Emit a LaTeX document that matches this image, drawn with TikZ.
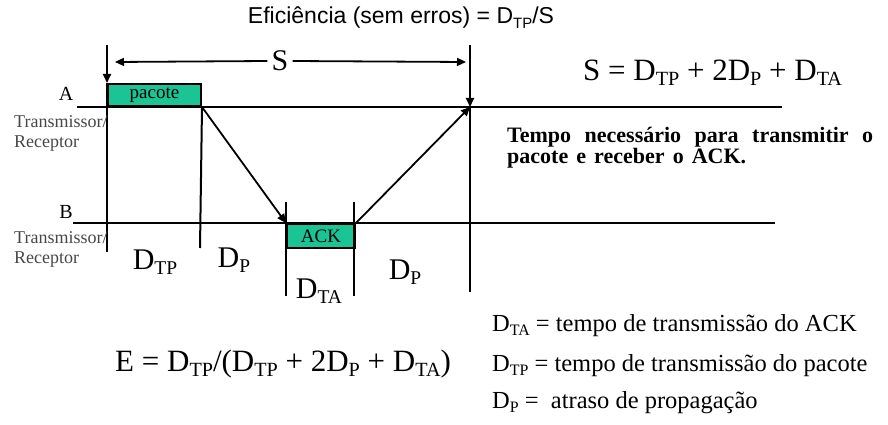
\documentclass[tikz,border=0pt]{standalone}
\usepackage{fontspec}
\usepackage{graphicx}
\setmainfont{Liberation Serif}
\newfontfamily\arialf{Liberation Sans}
\usetikzlibrary{arrows.meta}
\definecolor{boxgreen}{HTML}{1BC495}
\newcommand\sbs[1]{\raisebox{-0.35ex}{\scalebox{0.65}{#1}}}
\newcommand\fs[1]{\fontsize{#1}{#1}\selectfont}
\tikzset{
  x=1pt, y=-1pt,
  axis/.style={line width=2.6pt},
  tick/.style={line width=2pt},
  conn/.style={line width=1.8pt},
  tip/.style={-{Triangle[length=9pt,width=8pt]}},
  greenbox/.style={draw=black, line width=2pt, fill=boxgreen, inner sep=0pt, font=\fs{19}},
  sidelabel/.style={text=black!72, font=\fs{18}, inner sep=0pt, anchor=west},
  big/.style={inner sep=0pt, font=\fs{30}},
  ablabel/.style={inner sep=0pt, font=\fs{20}},
}
\begin{document}
\begin{tikzpicture}
\useasboundingbox (0,0) rectangle (888,425);
% title
\node[inner sep=0pt, font=\arialf\fs{23}] (title) at (401,18) {Eficiência (sem erros) = D\sbs{TP}/S};
% time axes
\coordinate (A0) at (77,107);  \coordinate (A1) at (782,107);
\coordinate (B0) at (73,223);  \coordinate (B1) at (775,223);
\draw[axis] (A0) -- (A1);
\draw[axis] (B0) -- (B1);
% boxes
\node[greenbox, minimum width=93pt, minimum height=22pt, anchor=south west] (pac) at (107,107) {pacote};
\node[greenbox, minimum width=68pt, minimum height=24pt, anchor=north west] (ack) at (286,223) {ACK};
% vertical markers
\coordinate (v1top) at (107,45);  \coordinate (v1bot) at (107,252);
\coordinate (v2bot) at (200,248);
\coordinate (v3top) at (286,202); \coordinate (v3bot) at (286,296);
\coordinate (v4top) at (354,202); \coordinate (v4bot) at (354,296);
\coordinate (v5top) at (470,45);  \coordinate (v5bot) at (470,292);
\coordinate (v5a) at (470,107);
\draw[tick, tip] (v1top) -- (pac.north west);
\draw[tick] (pac.north west) -- (v1bot);
\draw[tick] (pac.south east) -- (v2bot);
\draw[tick] (v3top) -- (v3bot);
\draw[tick] (v4top) -- (v4bot);
\draw[tick, tip] (v5top) -- (v5a);
\draw[tick] (v5a) -- (v5bot);
% signal arrows
\draw[conn, tip] (pac.south east) -- (ack.north west);
\draw[conn, tip] (ack.north east) -- (v5a);
% S span
\node[big] (S) at (280,61) {S};
\coordinate (Sl) at (115,62); \coordinate (Sr) at (466,62);
\draw[conn, tip] (S.west) ++(-4,0) -- (Sl);
\draw[conn, tip] (S.east) ++(4,0) -- (Sr);
% side labels
\node[ablabel] (Alab) at (66,94) {A};
\node[sidelabel] (Atx) at (14,122) {Transmissor/};
\node[sidelabel] (Arx) at (14,144) {Receptor};
\node[ablabel] (Blab) at (66,212) {B};
\node[sidelabel] (Btx) at (14,238) {Transmissor/};
\node[sidelabel] (Brx) at (14,260) {Receptor};
% interval labels
\node[big] (dtp) at (155,262) {D\sbs{TP}};
\node[big] (dp1) at (234,260) {D\sbs{P}};
\node[big] (dta) at (319,291) {D\sbs{TA}};
\node[big] (dp2) at (405,272) {D\sbs{P}};
% formulas
\node[inner sep=0pt, font=\fs{31}, anchor=west] (Sform) at (583,73) {S = D\sbs{TP} + 2D\sbs{P} + D\sbs{TA}};
\node[inner sep=0pt, font=\bfseries\fontsize{22}{18}\selectfont, anchor=north west, align=left] (note) at (507,127)
  {\makebox[366pt][s]{Tempo necessário para transmitir o}\\\makebox[239pt][s]{pacote e receber o ACK.}};
\node[inner sep=0pt, font=\fs{31}, anchor=west] (Eform) at (115,364) {E = D\sbs{TP}/(D\sbs{TP} + 2D\sbs{P} + D\sbs{TA})};
\node[inner sep=0pt, font=\fs{24.5}, anchor=west] (leg1) at (492,326) {D\sbs{TA} = tempo de transmissão do ACK};
\node[inner sep=0pt, font=\fs{24.5}, anchor=west] (leg2) at (492,366) {D\sbs{TP} = tempo de transmissão do pacote};
\node[inner sep=0pt, font=\fs{24.5}, anchor=west] (leg3) at (492,403) {D\sbs{P} =\ \ atraso de propagação};
\end{tikzpicture}
\end{document}
